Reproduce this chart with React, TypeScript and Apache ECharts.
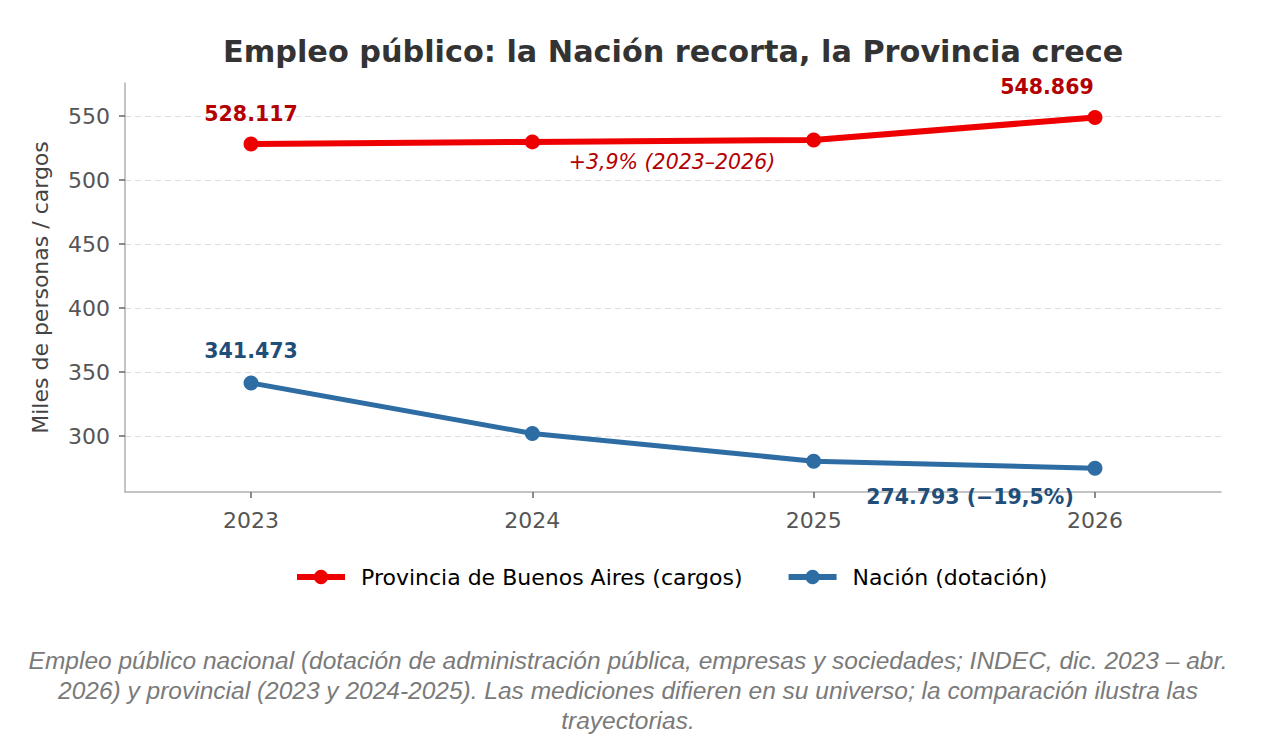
import React, { useEffect, useRef } from "react";
import * as echarts from "echarts";

// Años y valores (miles)
const years = [2023, 2024, 2025, 2026];
const provincia = [528.117, 529.8, 531.3, 548.869];
const nacion = [341.473, 302.0, 280.3, 274.793];
const yTicks = [300, 350, 400, 450, 500, 550];

const provName = "Provincia de Buenos Aires (cargos)";
const nacName = "Nación (dotación)";
const provLabels = ["528.117", "", "", "548.869"];
const nacLabels = ["341.473", "", "", "274.793 (\u221219,5%)"];
const changeNote = "+3,9% (2023\u20132026)";
const captionLines = [
  "Empleo público nacional (dotación de administración pública, empresas y sociedades; INDEC, dic. 2023 – abr.",
  "2026) y provincial (2023 y 2024-2025). Las mediciones difieren en su universo; la comparación ilustra las",
  "trayectorias.",
];

const RED = "#ee0000";
const RED_TXT = "#b30000";
const BLUE = "#2e6da4";
const BLUE_TXT = "#1f4e79";
const FONT = "DejaVu Sans";

export default function App() {
  const ref = useRef<HTMLDivElement>(null);
  useEffect(() => {
    if (!ref.current) return;
    const chart = echarts.init(ref.current, null, { renderer: "svg" });

    const labelCfg = (texts: string[], color: string, place: (i: number) => any) =>
      texts.map((t, i) =>
        t
          ? {
              show: true,
              formatter: t,
              color,
              fontFamily: FONT,
              fontWeight: "bold",
              fontSize: 20.5,
              ...place(i),
            }
          : { show: false }
      );

    const provLbl = labelCfg(provLabels, RED_TXT, (i) =>
      i === 0 ? { position: "top", distance: 12 } : { position: "top", distance: 12, offset: [-48, 0] }
    );
    const nacLbl = labelCfg(nacLabels, BLUE_TXT, (i) =>
      i === 0 ? { position: "top", distance: 14 } : { position: "bottom", distance: 11, offset: [-125, 0] }
    );

    chart.setOption({
      animation: false,
      backgroundColor: "#ffffff",
      title: {
        text: "Empleo público: la Nación recorta, la Provincia crece",
        left: 218,
        top: 31,
        textStyle: { fontFamily: FONT, fontWeight: "bold", fontSize: 30.3, color: "#333333" },
      },
      grid: { left: 125, right: 41, top: 83, bottom: 252, containLabel: false },
      legend: {
        top: 561,
        left: 289,
        itemWidth: 48,
        itemHeight: 18,
        itemGap: 43,
        lineStyle: { width: 6 },
        textStyle: { fontFamily: FONT, fontSize: 22, color: "#000000", padding: [0, 0, 0, 11] },
        data: [provName, nacName],
      },
      xAxis: {
        type: "value",
        min: 2022.552,
        max: 2026.448,
        axisLine: { show: true, lineStyle: { color: "#b0b0b0", width: 1.5 } },
        axisTick: { show: true, customValues: years, length: 6, lineStyle: { color: "#666666", width: 1.5 } },
        axisLabel: {
          customValues: years,
          margin: 17,
          color: "#555555",
          fontFamily: FONT,
          fontSize: 22,
          formatter: (v: number) => String(v),
        },
        splitLine: { show: false },
      },
      yAxis: {
        type: "value",
        min: 256.25,
        max: 575.8,
        name: "Miles de personas / cargos",
        nameLocation: "middle",
        nameGap: 74,
        nameTextStyle: { fontFamily: FONT, fontSize: 22, color: "#444444" },
        axisLine: { show: true, lineStyle: { color: "#b0b0b0", width: 1.5 } },
        axisTick: { show: true, customValues: yTicks, length: 6, lineStyle: { color: "#666666", width: 1.5 } },
        axisLabel: {
          customValues: yTicks,
          margin: 15,
          color: "#555555",
          fontFamily: FONT,
          fontSize: 22,
        },
        splitLine: { show: true, lineStyle: { color: "#dddddd", type: [6, 4], width: 1.2 } },
      },
      series: [
        {
          name: provName,
          type: "line",
          symbol: "circle",
          symbolSize: 15,
          lineStyle: { color: RED, width: 6 },
          itemStyle: { color: RED },
          data: years.map((y, i) => ({ value: [y, provincia[i]], label: provLbl[i] })),
        },
        {
          name: nacName,
          type: "line",
          symbol: "circle",
          symbolSize: 15,
          lineStyle: { color: BLUE, width: 5 },
          itemStyle: { color: BLUE },
          data: years.map((y, i) => ({ value: [y, nacion[i]], label: nacLbl[i] })),
        },
      ],
      graphic: [
        {
          type: "text",
          x: 672,
          y: 162,
          style: {
            text: changeNote,
            fill: RED_TXT,
            font: `italic 20.5px "${FONT}"`,
            textAlign: "center",
            textVerticalAlign: "middle",
          },
        },
        ...captionLines.map((line, i) => ({
          type: "text",
          x: 628,
          y: 660 + i * 30,
          style: {
            text: line,
            fill: "#7a7a7a",
            font: `italic 24.5px "Liberation Sans"`,
            textAlign: "center",
            textVerticalAlign: "middle",
          },
        })),
      ],
    });
    return () => chart.dispose();
  }, []);
  return (
    <div
      ref={ref}
      style={{ position: "fixed", left: 0, top: 0, width: 1262, height: 744, background: "#fff" }}
    />
  );
}
